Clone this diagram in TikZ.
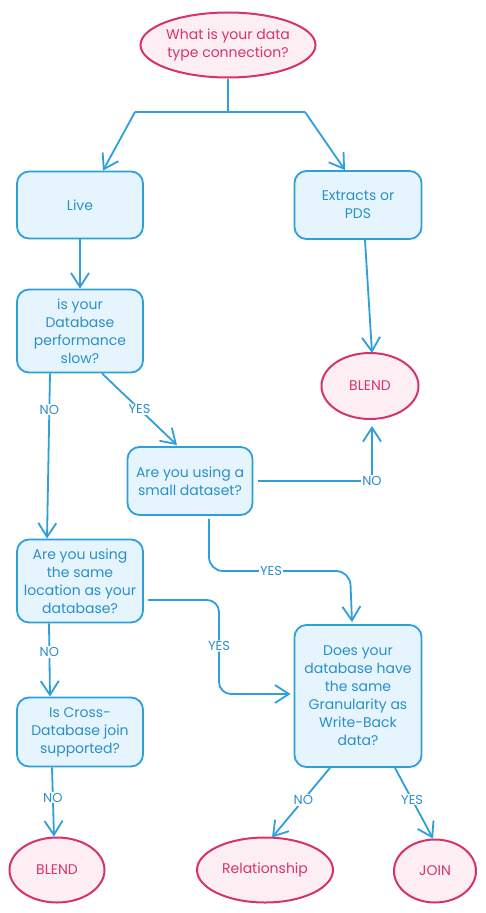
\documentclass[tikz,border=0pt]{standalone}
\usepackage{fontspec}
\setmainfont{Poppins}
\usetikzlibrary{shapes.geometric,arrows.meta,calc}
\definecolor{bstroke}{HTML}{2E9FD9}
\definecolor{btext}{HTML}{2A8FC8}
\definecolor{bfill}{HTML}{E6F5FD}
\definecolor{pstroke}{HTML}{D6336C}
\definecolor{pfill}{HTML}{FDEEF4}
\tikzset{
  qbox/.style={draw=bstroke, fill=bfill, line width=1.8pt, rounded corners=12pt,
    align=center, text=btext, font=\fontsize{14}{18}\selectfont, inner sep=2pt},
  term/.style={ellipse, draw=pstroke, fill=pfill, line width=2pt, text=pstroke,
    align=center, font=\fontsize{14}{18}\selectfont, inner sep=0pt},
  conn/.style={draw=bstroke, line width=1.8pt,
    -{Straight Barb[length=14pt,width=18pt,line width=1.8pt]}},
  plain/.style={draw=bstroke, line width=1.8pt},
  lbl/.style={fill=white, inner sep=1pt, text=btext, font=\fontsize{13}{14}\selectfont}
}
\begin{document}
\begin{tikzpicture}[x=1pt,y=-1pt]
\useasboundingbox[fill=white] (0,0) rectangle (486,913);
% nodes
\node[term, minimum width=175pt, minimum height=65pt] (top) at (228,45) {What is your data\\type connection?};
\node[qbox, minimum width=126pt, minimum height=67pt] (live) at (80,205) {Live};
\node[qbox, minimum width=127pt, minimum height=68pt] (extr) at (358,205) {Extracts or\\PDS};
\node[qbox, minimum width=126pt, minimum height=83pt] (perf) at (80,331) {is your\\Database\\performance\\slow?};
\node[term, minimum width=97pt, minimum height=66pt] (blend1) at (370,386) {BLEND};
\node[qbox, minimum width=125pt, minimum height=68pt] (small) at (190,481) {Are you using a\\small dataset?};
\node[qbox, minimum width=126pt, minimum height=83pt] (same) at (80,581) {Are you using\\the same\\location as your\\database?};
\node[qbox, minimum width=126pt, minimum height=69pt] (cross) at (80,732) {Is Cross-\\Database join\\supported?};
\node[qbox, minimum width=127pt, minimum height=142pt] (gran) at (358,696) {Does your\\database have\\the same\\Granularity as\\Write-Back\\data?};
\node[term, minimum width=95pt, minimum height=65pt] (blend2) at (57,870) {BLEND};
\node[term, minimum width=136pt, minimum height=65pt] (rel) at (265,870) {Relationship};
\node[term, minimum width=82pt, minimum height=63pt] (join) at (435,871) {JOIN};
% split from top
\coordinate (split) at (228,112);
\coordinate (sl) at (135,112);
\coordinate (sr) at (305,112);
\draw[plain] (top.south) -- (split);
\draw[plain] (sl) -- (sr);
\draw[conn] (sl) -- ([xshift=23pt]live.north);
\draw[conn] (sr) -- ([xshift=-13pt]extr.north);
% live -> perf
\draw[conn] (live.south) -- (perf.north);
% extracts -> blend
\draw[conn] ([xshift=7pt]extr.south) -- ([xshift=2pt,yshift=-1pt]blend1.north);
% perf NO / YES
\draw[conn] ([xshift=-30pt]perf.south) -- node[lbl,pos=0.22]{NO} ([xshift=-33pt]same.north);
\draw[conn] ([xshift=22pt]perf.south) -- node[lbl,pos=0.5]{YES} ([xshift=-13pt,yshift=1pt]small.north);
% small NO -> blend1
\draw[conn] ([xshift=5pt]small.east) -| node[lbl,pos=0.5]{NO} ([xshift=2pt,yshift=-6pt]blend1.south);
% small YES -> gran
\draw[conn, rounded corners=14pt] ([xshift=19pt,yshift=-3pt]small.south) |- (350,571) node[lbl,pos=0.72]{YES} -- ([xshift=-6pt,yshift=2pt]gran.north);
% same YES -> gran
\draw[conn, rounded corners=12pt] ([xshift=4pt,yshift=-19pt]same.east) -| (219,646) node[lbl]{YES} |- ([xshift=-3pt,yshift=2pt]gran.west);
% same NO -> cross
\draw[conn] ([xshift=-31pt]same.south) -- node[lbl,pos=0.39]{NO} ([xshift=-30pt]cross.north);
% cross NO -> blend2
\draw[conn] ([xshift=-28pt]cross.south) -- node[lbl,pos=0.44]{NO} ([xshift=-3pt]blend2.north);
% gran NO / YES
\draw[conn] ([xshift=-28pt]gran.south) -- node[lbl,pos=0.46]{NO} ([xshift=7pt,yshift=-1pt]rel.north);
\draw[conn] ([xshift=37pt]gran.south) -- node[lbl,pos=0.45]{YES} ([xshift=-2pt]join.north);
\end{tikzpicture}
\end{document}
